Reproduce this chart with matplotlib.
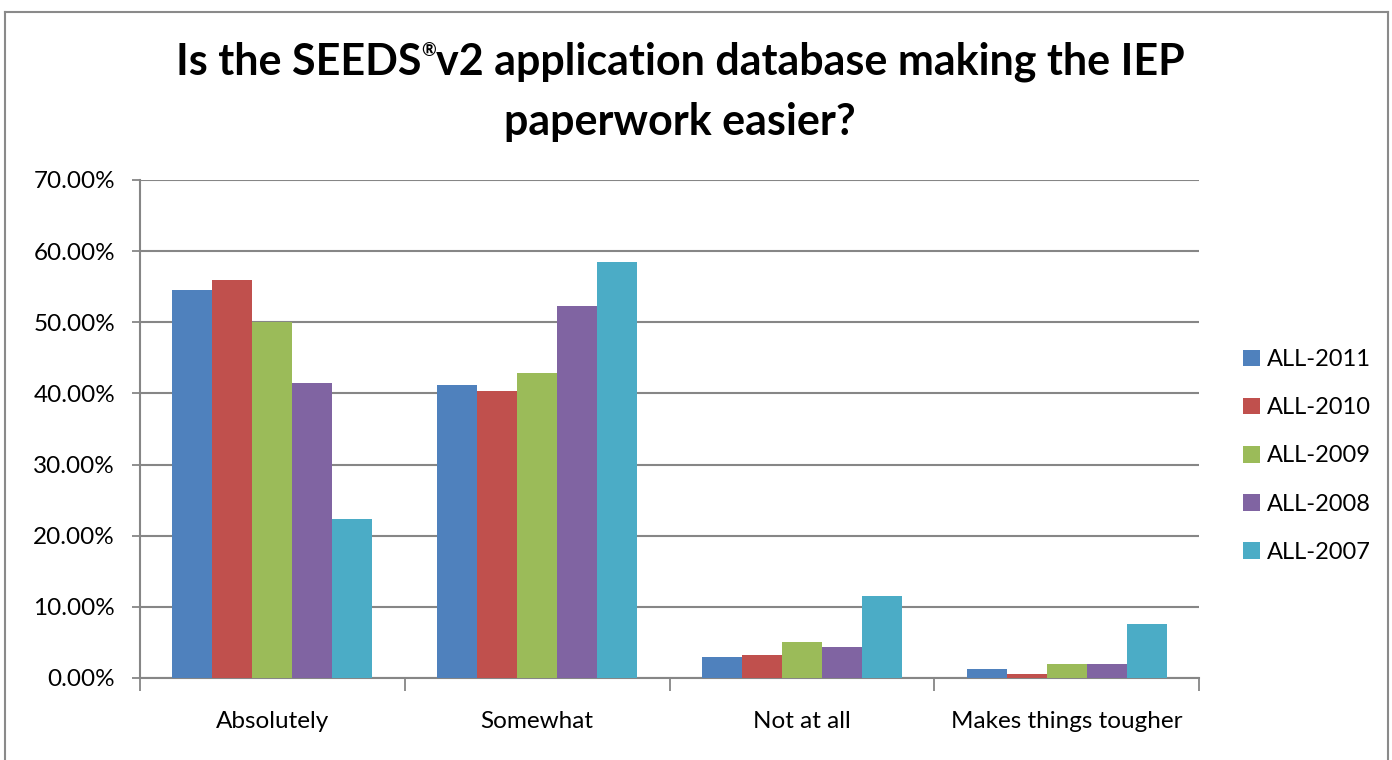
import numpy as np
import matplotlib
matplotlib.use("Agg")
import matplotlib.pyplot as plt
from matplotlib.lines import Line2D
from matplotlib.patches import Patch

plt.rcParams["font.family"] = ["Lato", "DejaVu Sans"]

categories = ["Absolutely", "Somewhat", "Not at all", "Makes things tougher"]
series = ["ALL-2011", "ALL-2010", "ALL-2009", "ALL-2008", "ALL-2007"]
values = {
    "ALL-2011": [54.6, 41.2, 2.9, 1.2],
    "ALL-2010": [55.9, 40.3, 3.2, 0.6],
    "ALL-2009": [50.0, 42.9, 5.1, 1.9],
    "ALL-2008": [41.5, 52.3, 4.3, 1.9],
    "ALL-2007": [22.4, 58.5, 11.5, 7.55],
}
colors = ["#4F81BD", "#C0504D", "#9BBB59", "#8064A2", "#4BACC6"]
yticks = [0, 10, 20, 30, 40, 50, 60, 70]
title_parts = ["Is the SEEDS", "\u00ae", "v2 application database making the IEP"]
title_line2 = "paperwork easier?"

W, H = 1392, 760
fig = plt.figure(figsize=(W / 100, H / 100), dpi=100)
ax = fig.add_axes([140 / W, 82 / H, (1199 - 140) / W, (678 - 180) / H])

grid_c = "#868686"
bw = 0.151
x = np.arange(len(categories)) + 0.5
for i, (s, c) in enumerate(zip(series, colors)):
    ax.bar(x + (i - 2) * bw, values[s], width=bw, color=c, zorder=3, label=s)

ax.set_xlim(0, 4)
ax.set_ylim(0, 70)
ax.set_yticks(yticks)
ax.set_yticklabels([f"{v:.2f}%" for v in yticks])
ax.grid(axis="y", color=grid_c, lw=1.5, zorder=0)
ax.set_axisbelow(True)

ax.set_xticks([0, 1, 2, 3, 4])
ax.set_xticklabels([])
ax.set_xticks(x, minor=True)
ax.set_xticklabels(categories, minor=True, fontsize=17.5)
ax.tick_params(axis="x", which="major", length=9, width=1.3, color=grid_c, direction="out")
ax.tick_params(axis="x", which="minor", length=0, pad=24)
ax.tick_params(axis="y", length=6, width=1.3, color=grid_c, pad=12, labelsize=17.5)

for side in ["top", "right"]:
    ax.spines[side].set_visible(False)
for side in ["left", "bottom"]:
    ax.spines[side].set_color(grid_c)
    ax.spines[side].set_linewidth(1.5)

# title: first line built from pieces so the registered mark can be small and raised
renderer = fig.canvas.get_renderer()
y1 = 1 - 62 / H
sizes = [31, 13, 31]
offsets = [0, 12, 0]
pieces = []
for txt, fs, off in zip(title_parts, sizes, offsets):
    t = fig.text(0, y1 + off / H, txt, ha="left", va="center", fontsize=fs, fontweight="bold")
    pieces.append(t)
widths = [p.get_window_extent(renderer).width for p in pieces]
start = 680 - sum(widths) / 2
for p, w in zip(pieces, widths):
    p.set_x(start / W)
    start += w
fig.text(680 / W, 1 - 122 / H, title_line2, ha="center", va="center",
         fontsize=31, fontweight="bold")

handles = [Patch(facecolor=c, edgecolor="none") for c in colors]
fig.legend(handles, series, loc="center left", bbox_to_anchor=(1222 / W, 1 - 456 / H),
           frameon=False, fontsize=17, handlelength=0.7, handleheight=0.7,
           handletextpad=0.3, labelspacing=1.15)

frame = dict(color="#8a8a8a", lw=1.5, transform=fig.transFigure)
fig.add_artist(Line2D([5 / W, 5 / W], [0, 1 - 12 / H], **frame))
fig.add_artist(Line2D([5 / W, 1388 / W], [1 - 12 / H, 1 - 12 / H], **frame))
fig.add_artist(Line2D([1388 / W, 1388 / W], [0, 1 - 12 / H], **frame))

fig.savefig("out.png", dpi=100)
plt.close(fig)
